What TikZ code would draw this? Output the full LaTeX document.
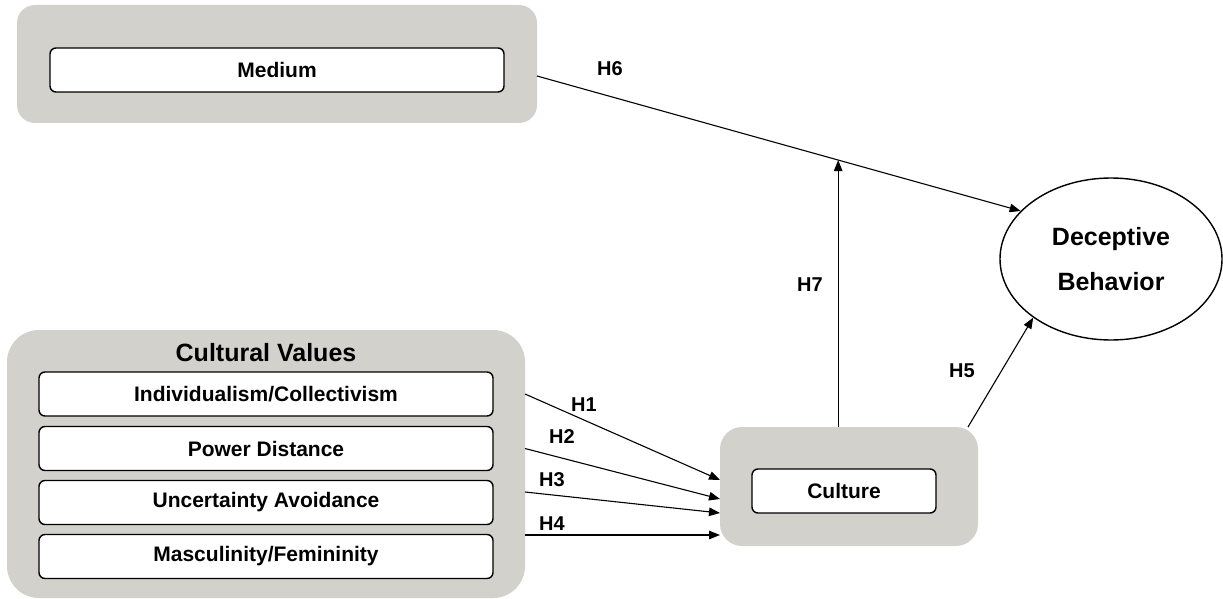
\documentclass[tikz,border=0pt]{standalone}
\usepackage{fontspec}
\setmainfont{Liberation Sans}
\usetikzlibrary{arrows.meta,shapes.geometric,calc}
\definecolor{panelgray}{RGB}{211,209,204}
\begin{document}
\begin{tikzpicture}[x=1pt,y=-1pt,
  panel/.style={fill=panelgray, draw=none, rounded corners=#1, inner sep=0pt, outer sep=0pt},
  item/.style={draw=black, line width=1.4pt, fill=white, rounded corners=6pt,
    minimum width=454pt, minimum height=44pt, inner sep=0pt, outer sep=0pt,
    font=\bfseries\fontsize{21}{24}\selectfont},
  hlab/.style={font=\bfseries\fontsize{20}{22}\selectfont, inner sep=0pt},
  link/.style={line width=1.1pt, -{Triangle[length=11pt,width=8.5pt]}}
]
\useasboundingbox (0,0) rectangle (1223,599);

% Medium panel
\node[panel=18pt, minimum width=520pt, minimum height=118pt] (medout) at (277,64) {};
\node[item] (med) at (277,70) {Medium};

% Cultural values panel
\node[panel=32pt, minimum width=518pt, minimum height=268pt] (cvout) at (266,464) {};
\node[font=\bfseries\fontsize{25}{28}\selectfont, anchor=base, inner sep=0pt] (cvt) at (266,361) {Cultural Values};
\node[item] (r1) at (266,394) {Individualism/Collectivism};
\node[item] (r2) at (266,448.5) {Power Distance};
\node[item] (r3) at (266,502.5) {Uncertainty Avoidance};
\node[item] (r4) at (266,556.5) {Masculinity/Femininity};

% Culture panel
\node[panel=22pt, minimum width=258pt, minimum height=119pt] (cultout) at (849,486.5) {};
\node[item, minimum width=184pt] (cult) at (844,491) {Culture};

% Deceptive behavior
\node[ellipse, draw=black, line width=1.4pt, minimum width=222pt, minimum height=162pt,
  inner sep=0pt, align=center, font=\bfseries\fontsize{25}{45}\selectfont] (dec) at (1111,259) {Deceptive\\Behavior};

% H6 and H7
\coordinate (m1) at ([yshift=-12pt]medout.east);
\draw[link] (m1) -- (dec.152);
\coordinate (j) at ($(m1)!0.6227!(dec.152)$);
\draw[link] (j |- cultout.north) -- (j);

% H5
\draw[link] ([xshift=-10pt]cultout.north east) -- (dec.217);

% H1-H4
\coordinate (s1) at (cvout.east |- r1);
\coordinate (s2) at (cvout.east |- r2);
\coordinate (s3) at ($(cvout.east |- r3)+(0,-10.5)$);
\coordinate (s4) at ($(cvout.east |- r4)+(0,-21.5)$);
\draw[link] (s1) -- ($(cultout.west)+(0,-6.5)$);
\draw[link] (s2) -- ($(cultout.west)+(0,12.5)$);
\draw[link] (s3) -- ($(cultout.west)+(0,26.5)$);
\draw[link] (s4) -- (s4 -| cultout.west);

% labels
\node[hlab] (h6) at (610,69) {H6};
\node[hlab] (h7) at (810,285) {H7};
\node[hlab] (h5) at (962,371) {H5};
\node[hlab] (h1) at (584,405) {H1};
\node[hlab] (h2) at (562,437) {H2};
\node[hlab] (h3) at (552,480) {H3};
\node[hlab] (h4) at (552,524) {H4};
\end{tikzpicture}
\end{document}
